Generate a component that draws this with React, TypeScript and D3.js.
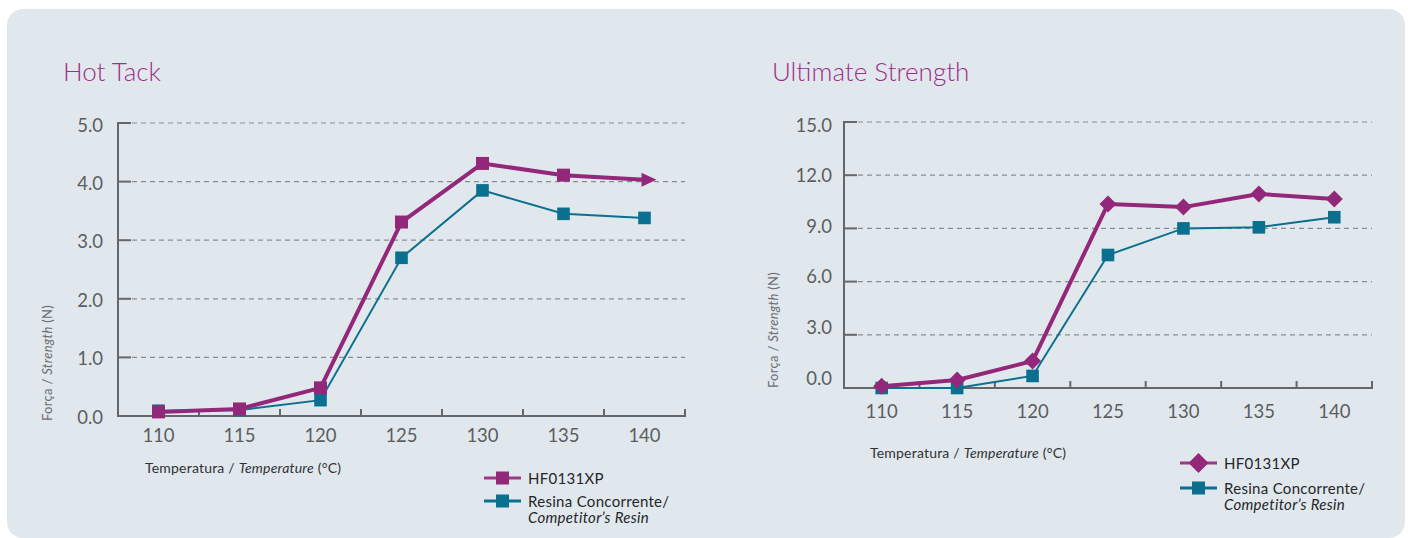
import React from 'react'
import * as d3 from 'd3'

// temperatures (°C)
const temps = ['110', '115', '120', '125', '130', '135', '140']

// Hot Tack, force (N)
const hotTackHF = [0.07, 0.12, 0.48, 3.31, 4.31, 4.11, 4.03]
const hotTackComp = [0.09, 0.1, 0.27, 2.7, 3.85, 3.45, 3.38]
const hotTackTicks = [0, 1, 2, 3, 4, 5]

// Ultimate Strength, force (N)
const ultHF = [0.1, 0.45, 1.52, 10.38, 10.2, 10.94, 10.66]
const ultComp = [0.0, 0.0, 0.68, 7.5, 9.0, 9.06, 9.63]
const ultTicks = [0, 3, 6, 9, 12, 15]

const PURPLE = '#93287b'
const TEAL = '#0b6f8f'
const TITLE = '#9e2c89'
const GRID = '#8a8d90'
const AXIS = '#646769'
const LABEL = '#5b5e61'
const FONT = 'Lato, "Open Sans", sans-serif'

type ChartProps = {
  title: string
  titleX: number
  x0: number
  x1: number
  yTop: number
  yBottom: number
  yMax: number
  ticks: number[]
  hf: number[]
  comp: number[]
  hfMarker: 'square' | 'diamond'
  arrowLast?: boolean
  xLabelDy: number
  yLabelGap: number
  labelShift: [number, number]
  yTitleX: number
  yTitleY: number
  xTitleX: number
  xTitleY: number
  legendX: number
  legendY: [number, number]
}

function marker(kind: string, cx: number, cy: number, s: number, color: string, key: string) {
  if (kind === 'diamond') {
    const p = `M${cx},${cy - s}L${cx + s},${cy}L${cx},${cy + s}L${cx - s},${cy}Z`
    return <path key={key} d={p} fill={color} />
  }
  return <rect key={key} x={cx - s} y={cy - s} width={s * 2} height={s * 2} fill={color} />
}

function Chart(p: ChartProps) {
  const x = d3.scaleBand<string>().domain(temps).range([p.x0, p.x1]).padding(0)
  const y = d3.scaleLinear().domain([0, p.yMax]).range([p.yBottom, p.yTop])
  // tick labels sit a bit off the grid in the original artwork
  const yLab = d3.scaleLinear().domain([0, p.yMax])
    .range([p.yBottom + p.labelShift[0], p.yTop + p.labelShift[1]])
  const cx = (t: string) => (x(t) as number) + x.bandwidth() / 2

  const line = d3.line<number>()
    .x((d, i) => cx(temps[i]))
    .y(d => y(d))

  const boundaries = temps.map(t => (x(t) as number) + x.bandwidth())

  const n = temps.length
  const lastX = cx(temps[n - 1])
  const lastY = y(p.hf[n - 1])

  return (
    <g fontFamily={FONT}>
      <text x={p.titleX} y={81} fontSize={26} fill={TITLE} fontWeight={300}>{p.title}</text>

      {/* grid + y axis */}
      {p.ticks.map(t => (
        <g key={'g' + t}>
          {t > 0 && (
            <line x1={p.x0 + 14} x2={p.x1} y1={y(t)} y2={y(t)}
              stroke={GRID} strokeWidth={1.2} strokeDasharray="5,4" />
          )}
          {t > 0 && (
            <line x1={p.x0} x2={p.x0 + 13} y1={y(t)} y2={y(t)} stroke={AXIS} strokeWidth={2} />
          )}
          <text x={p.x0 - p.yLabelGap} y={yLab(t) + 6.5} textAnchor="end"
            fontSize={18.5} fill={LABEL}>{t.toFixed(1)}</text>
        </g>
      ))}
      <line x1={p.x0} x2={p.x0} y1={p.yTop - 1} y2={p.yBottom + 1} stroke={AXIS} strokeWidth={2} />
      <line x1={p.x0} x2={p.x1 + 1} y1={p.yBottom} y2={p.yBottom} stroke={AXIS} strokeWidth={2.2} />
      {boundaries.map((b, i) => (
        <line key={'b' + i} x1={b} x2={b} y1={p.yBottom} y2={p.yBottom - 7} stroke={AXIS} strokeWidth={2} />
      ))}
      {temps.map(t => (
        <text key={'x' + t} x={cx(t)} y={p.yBottom + p.xLabelDy} textAnchor="middle"
          fontSize={18.5} fill={LABEL}>{t}</text>
      ))}

      {/* axis titles */}
      <text transform={`translate(${p.yTitleX},${p.yTitleY}) rotate(-90)`} textAnchor="middle"
        fontSize={13} letterSpacing={0.3} fill="#6b6e71">
        Força / <tspan fontStyle="italic">Strength</tspan> (N)
      </text>
      <text x={p.xTitleX} y={p.xTitleY} fontSize={14} letterSpacing={0.2} fill="#2f3133">
        Temperatura / <tspan fontStyle="italic">Temperature</tspan> (°C)
      </text>

      {/* competitor series */}
      <path d={line(p.comp) || ''} fill="none" stroke={TEAL} strokeWidth={2} />
      {p.comp.map((v, i) => marker('square', cx(temps[i]), y(v), 6.3, TEAL, 'c' + i))}

      {/* HF0131XP series */}
      <path d={line(p.hf) || ''} fill="none" stroke={PURPLE} strokeWidth={4} strokeLinejoin="round" />
      {p.hf.map((v, i) => {
        if (p.arrowLast && i === n - 1) return null
        return marker(p.hfMarker, cx(temps[i]), y(v), p.hfMarker === 'diamond' ? 8.5 : 6.5, PURPLE, 'h' + i)
      })}
      {p.arrowLast && (
        <path d={`M${lastX - 3},${lastY - 7}L${lastX + 12},${lastY}L${lastX - 3},${lastY + 7}Z`} fill={PURPLE} />
      )}

      {/* legend */}
      <g>
        <line x1={p.legendX} x2={p.legendX + 37} y1={p.legendY[0]} y2={p.legendY[0]} stroke={PURPLE} strokeWidth={3} opacity={0.9} />
        {marker(p.hfMarker, p.legendX + 18.5, p.legendY[0], p.hfMarker === 'diamond' ? 10 : 6.5, PURPLE, 'lh')}
        <text x={p.legendX + 44} y={p.legendY[0] + 5.5} fontSize={15} letterSpacing={0.3} fill="#242628">HF0131XP</text>
        <line x1={p.legendX} x2={p.legendX + 37} y1={p.legendY[1]} y2={p.legendY[1]} stroke={TEAL} strokeWidth={3} />
        {marker('square', p.legendX + 18.5, p.legendY[1], 6.5, TEAL, 'lc')}
        <text x={p.legendX + 44} y={p.legendY[1] + 6} fontSize={15} letterSpacing={0.3} fill="#242628">
          <tspan x={p.legendX + 44}>Resina Concorrente/</tspan>
          <tspan x={p.legendX + 44} dy={16} fontStyle="italic">Competitor’s Resin</tspan>
        </text>
      </g>
    </g>
  )
}

export default function App() {
  return (
    <svg width={1408} height={538} style={{ position: 'absolute', left: 0, top: 0 }}>
      <rect x={7} y={9} width={1398} height={529} rx={16} fill="#e1e8ed" />
      <Chart
        title="Hot Tack" titleX={63}
        x0={118} x1={685} yTop={123} yBottom={416} yMax={5} ticks={hotTackTicks}
        hf={hotTackHF} comp={hotTackComp} hfMarker="square" arrowLast
        xLabelDy={26} yLabelGap={15} labelShift={[1, 2]}
        yTitleX={52} yTitleY={363} xTitleX={145} xTitleY={473}
        legendX={484} legendY={[478, 501]}
      />
      <Chart
        title="Ultimate Strength" titleX={772}
        x0={844} x1={1372} yTop={122} yBottom={388} yMax={15} ticks={ultTicks}
        hf={ultHF} comp={ultComp} hfMarker="diamond"
        xLabelDy={30} yLabelGap={12} labelShift={[-10, 3]}
        yTitleX={778} yTitleY={330} xTitleX={870} xTitleY={458}
        legendX={1180} legendY={[463, 488]}
      />
    </svg>
  )
}
